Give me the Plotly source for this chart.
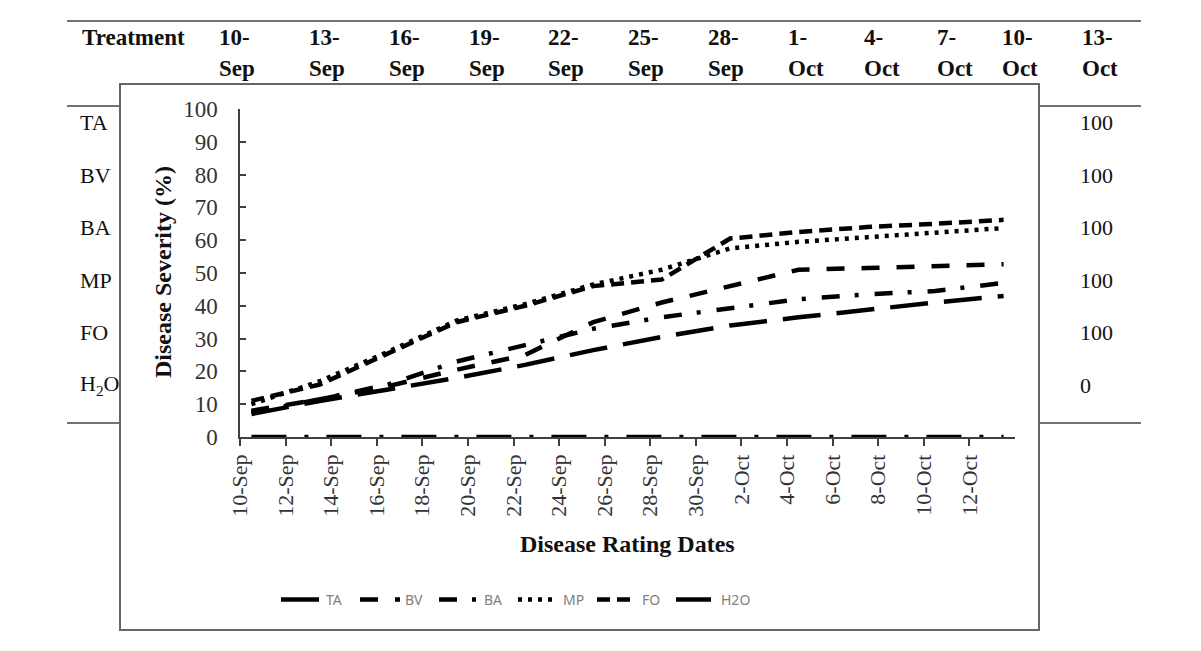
import pandas as pd
import plotly.graph_objects as go

# rating dates and disease severity (%)
dates = ['10-Sep', '13-Sep', '16-Sep', '19-Sep', '22-Sep', '25-Sep',
         '28-Sep', '1-Oct', '4-Oct', '7-Oct', '10-Oct', '13-Oct']
TA = [7, 11, 14.5, 18, 22, 26.5, 30.5, 34, 36.5, 38.8, 41, 43]
BV = [8, 11.5, 15.5, 20.5, 25, 35, 41, 46, 51, 51.5, 52, 52.7]
BA = [7.5, 11.5, 16, 23, 28, 33, 36.5, 39.3, 42, 43.5, 44.5, 47]
MP = [10, 17, 26, 35.5, 40.5, 46.5, 51, 57.5, 59.5, 61, 62.5, 63.7]
FO = [11, 16, 25.5, 35, 40, 46, 48, 60.5, 62.5, 64, 65, 66.2]
H2O = [0, 0, 0, 0, 0, 0, 0, 0, 0, 0, 0, 0]

treatments = ['TA', 'BV', 'BA', 'MP', 'FO', 'H2O']
table_labels = ['TA', 'BV', 'BA', 'MP', 'FO', 'H<sub>2</sub>O']
last_col = [100, 100, 100, 100, 100, 0]   # 13-Oct column of the table behind

series = [TA, BV, BA, MP, FO, H2O]
dashes = ['38px,16px', '18px,17px', '18px,15px,4px,16px', '4px,6px',
          '13px,7px', '35px,18px,4px,18px']

# excel date axis "between tick marks" -> points sit mid-day
x = pd.to_datetime(['2021-' + d for d in dates], format='%Y-%d-%b') + pd.Timedelta(hours=12)

# page body has an 8px margin, so the figure is a bit smaller and offset
OFF = 8
W, H = 1201 - 2 * OFF, 651 - 2 * OFF
L, R, T, B = 240, 1015, 109, 437   # plot area, screen pixels


def px(v):
    return (v - L) / (R - L)


def py(v):
    return (B - v) / (B - T)


serif = 'Liberation Serif'

fig = go.Figure()
for name, vals, d in zip(treatments, series, dashes):
    fig.add_trace(go.Scatter(x=x, y=vals, name=name, mode='lines',
                             line=dict(color='black', width=4.5, dash=d)))

ticks = pd.date_range('2021-09-10', '2021-10-12', freq='2D')

fig.update_xaxes(type='date', range=['2021-09-10', '2021-10-14'],
                 tickvals=ticks, tickformat='%-d-%b', tickangle=-90,
                 showline=True, linecolor='#404040', linewidth=1.5,
                 ticks='outside', ticklen=7, tickwidth=1.5, tickcolor='#404040',
                 showgrid=False, zeroline=False,
                 tickfont=dict(family=serif, size=22, color='#333'))
fig.update_yaxes(range=[0, 100], dtick=10,
                 showline=True, linecolor='#404040', linewidth=1.5,
                 ticks='inside', ticklen=6, tickwidth=1.5, tickcolor='#404040',
                 ticklabelstandoff=16,
                 showgrid=False, zeroline=False,
                 tickfont=dict(family=serif, size=23, color='#333'))

shapes = []
# chart frame (image pasted over the table)
shapes.append(dict(type='rect', xref='paper', yref='paper', layer='below',
                   x0=px(120), x1=px(1039), y0=py(84), y1=py(630),
                   line=dict(color='#666', width=2), fillcolor='white'))
# table rules
rule = dict(color='#444', width=1.5)
shapes.append(dict(type='line', xref='paper', yref='paper', x0=px(67), x1=px(1141),
                   y0=py(21), y1=py(21), line=rule))
for yy in (106, 423):
    shapes.append(dict(type='line', xref='paper', yref='paper', x0=px(67), x1=px(119),
                       y0=py(yy), y1=py(yy), line=rule))
    shapes.append(dict(type='line', xref='paper', yref='paper', x0=px(1040), x1=px(1141),
                       y0=py(yy), y1=py(yy), line=rule))

ann = []


def text(s, xx, yy, size=22, anchor='left', **kw):
    ann.append(dict(text=s, x=px(xx), y=py(yy), xref='paper', yref='paper',
                    xanchor=anchor, yanchor='middle', showarrow=False,
                    font=dict(family=serif, size=size, color='#111'), **kw))


# table header
text('<b>Treatment</b>', 80, 38, size=23)
col_x = [219, 309, 389, 469, 548, 628, 708, 788, 864, 937, 1002, 1082]
for d, cx in zip(dates, col_x):
    day, mon = d.split('-')
    text('<b>%s-</b>' % day, cx - 2, 38, size=23)
    text('<b>%s</b>' % mon, cx - 2, 69, size=23)
row_y = [122, 175, 227, 280, 332, 385]
for lab, v, ry in zip(table_labels, last_col, row_y):
    text(lab, 78, ry)
    text(str(v), 1078, ry)

# axis titles
text('<b>Disease Severity (%)</b>', 163, 272, size=24, anchor='center', textangle=-90)
text('<b>Disease Rating Dates</b>', 627, 544, size=24, anchor='center')

fig.update_layout(
    width=W, height=H,
    margin=dict(l=L - OFF, r=W - (R - OFF), t=T - OFF, b=H - (B - OFF), pad=0),
    paper_bgcolor='white', plot_bgcolor='rgba(0,0,0,0)',
    shapes=shapes, annotations=ann,
    showlegend=True,
    legend=dict(orientation='h', x=px(276), y=py(600), xanchor='left', yanchor='middle',
                font=dict(family='Noto Sans', size=14, color='#808080'),
                itemwidth=40, entrywidth=24, tracegroupgap=0,
                bgcolor='rgba(0,0,0,0)'),
)

fig.write_html('out.html')
